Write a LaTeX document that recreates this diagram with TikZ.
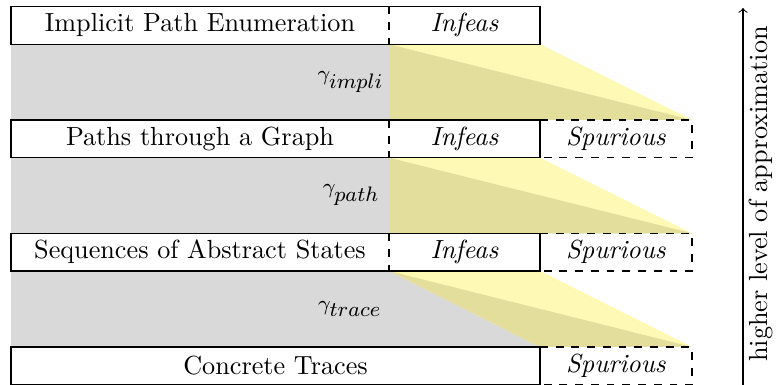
\documentclass[tikz,border=0pt]{standalone}
\definecolor{bandgray}{HTML}{D9D9D9}
\definecolor{bandyellow}{HTML}{FEF9B4}
\definecolor{bandolive}{HTML}{E4DE9C}
\def\PX{0.3817}
\begin{document}
\begin{tikzpicture}[x=\PX pt, y=-\PX pt,
  cell/.style={inner sep=0pt, outer sep=0pt, minimum height={37.7*\PX pt}, anchor=north west},
  mainw/.style={cell, minimum width={378*\PX pt}},
  infw/.style={cell, minimum width={151*\PX pt}},
  spuw/.style={cell, minimum width={152*\PX pt}},
  gam/.style={font=\footnotesize, anchor=east, inner sep=0pt},
  solidline/.style={line width=0.4pt},
  dashline/.style={line width=0.4pt, dashed}]
\useasboundingbox (0,0) rectangle (779,385);

% row nodes
\node[mainw] (r1) at (11,6.5) {Implicit Path Enumeration};
\node[infw]  (i1) at (389,6.5) {\textit{Infeas}};

\node[mainw] (r2) at (11,120) {Paths through a Graph};
\node[infw]  (i2) at (389,120) {\textit{Infeas}};
\node[spuw]  (s2) at (540,120) {\textit{Spurious}};

\node[mainw] (r3) at (11,233.3) {Sequences of Abstract States};
\node[infw]  (i3) at (389,233.3) {\textit{Infeas}};
\node[spuw]  (s3) at (540,233.3) {\textit{Spurious}};

\node[cell, minimum width={529*\PX pt}] (r4) at (11,347) {Concrete Traces};
\node[spuw]  (s4) at (540,347) {\textit{Spurious}};

% band 1
\fill[bandgray] (r1.south west) -- (r1.south east) -- (s2.north east) -- (r2.north west) -- cycle;
\fill[bandyellow] (i1.south west) -- (i1.south east) -- (s2.north east) -- (i2.north west) -- cycle;
\fill[bandolive] (i1.south west) -- (s2.north east) -- (i2.north west) -- cycle;
% band 2
\fill[bandgray] (r2.south west) -- (r2.south east) -- (s3.north east) -- (r3.north west) -- cycle;
\fill[bandyellow] (i2.south west) -- (i2.south east) -- (s3.north east) -- (i3.north west) -- cycle;
\fill[bandolive] (i2.south west) -- (s3.north east) -- (i3.north west) -- cycle;
% band 3
\fill[bandgray] (r3.south west) -- (r3.south east) -- (s4.north east) -- (r4.north west) -- cycle;
\fill[bandyellow] (i3.south west) -- (i3.south east) -- (s4.north east) -- (s4.north west) -- cycle;
\fill[bandolive] (i3.south west) -- (s4.north east) -- (s4.north west) -- cycle;

% gamma labels
\node[gam] (g1) at (384,82) {$\gamma_{\textstyle impli}$};
\node[gam] (g2) at (380,195) {$\gamma_{\textstyle path}$};
\node[gam] (g3) at (382,309) {$\gamma_{\textstyle trace}$};

% borders
\foreach \m/\i in {r1/i1, r2/i2, r3/i3}{
  \draw[solidline] (\m.north east) -- (\m.north west) -- (\m.south west) -- (\m.south east);
  \draw[dashline] (\m.north east) -- (\m.south east);
  \draw[solidline] (\i.north west) -- (\i.north east) -- (\i.south east) -- (\i.south west);
}
\foreach \s in {s2, s3, s4}{
  \draw[dashline] (\s.north west) -- (\s.north east) -- (\s.south east) -- (\s.south west);
}
\draw[solidline] (r4.north west) rectangle (r4.south east);

% approximation arrow
\coordinate (abot) at (743,385);
\coordinate (atop) at (743,8);
\draw[->, solidline] (abot) -- (atop);
\node[rotate=90, inner sep=0pt] (axl) at (761,194) {higher level of approximation};
\end{tikzpicture}
\end{document}
